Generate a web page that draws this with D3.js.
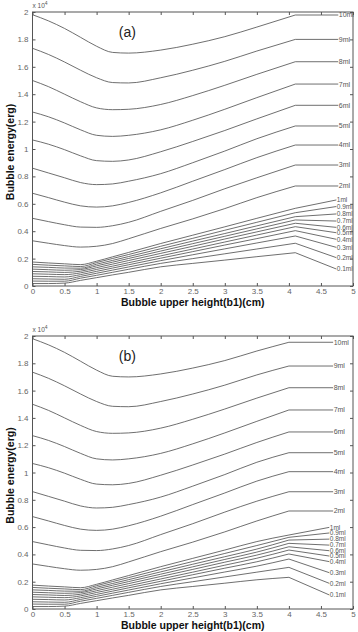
<!DOCTYPE html>
<html>
<head>
<meta charset="utf-8">
<script src="https://cdn.jsdelivr.net/npm/d3@7"></script>
<style>
  html, body { margin: 0; padding: 0; background: #fff; }
  svg { display: block; }
  text { font-family: "Liberation Sans", Arial, sans-serif; }
</style>
</head>
<body>
<svg id="chart" width="358" height="632"></svg>
<script>
// ---------------- data ----------------
const seriesNames = ["10ml","9ml","8ml","7ml","6ml","5ml","4ml","3ml","2ml",
                     "1ml","0.9ml","0.8ml","0.7ml","0.6ml","0.5ml","0.4ml","0.3ml","0.2ml","0.1ml"];

// x positions of the curve body (cm)
const xGrid = [0, 0.25, 0.5, 0.75, 1, 1.25, 1.5, 2, 2.5, 3, 3.5];

// energies (x 10^4 erg) at xGrid
const body10 = [1.98, 1.935, 1.88, 1.815, 1.75, 1.705, 1.700, 1.722, 1.765, 1.82, 1.89];
const body9  = [1.735, 1.69, 1.635, 1.575, 1.52, 1.485, 1.482, 1.52, 1.575, 1.64, 1.715];
const body8  = [1.50, 1.455, 1.40, 1.345, 1.30, 1.287, 1.29, 1.325, 1.39, 1.465, 1.545];
const body7  = [1.27, 1.235, 1.19, 1.14, 1.10, 1.092, 1.10, 1.14, 1.21, 1.29, 1.375];
const body6  = [1.066, 1.035, 0.995, 0.95, 0.915, 0.91, 0.92, 0.98, 1.055, 1.135, 1.22];
const body5  = [0.86, 0.825, 0.79, 0.755, 0.74, 0.745, 0.765, 0.82, 0.90, 0.985, 1.075];
const body4  = [0.677, 0.645, 0.612, 0.585, 0.576, 0.585, 0.61, 0.68, 0.765, 0.85, 0.937];
const body3  = [0.494, 0.47, 0.447, 0.43, 0.428, 0.44, 0.465, 0.545, 0.625, 0.71, 0.79];
const body2  = [0.33, 0.312, 0.295, 0.284, 0.29, 0.31, 0.345, 0.42, 0.49, 0.565, 0.645];
const body1  = [0.175, 0.168, 0.162, 0.156, 0.181, 0.213, 0.245, 0.31, 0.371, 0.432, 0.494];
const body09 = [0.158, 0.152, 0.147, 0.142, 0.171, 0.201, 0.23, 0.29, 0.348, 0.407, 0.465];
const body08 = [0.14, 0.136, 0.131, 0.13, 0.159, 0.187, 0.215, 0.272, 0.328, 0.383, 0.439];
const body07 = [0.123, 0.119, 0.115, 0.12, 0.147, 0.174, 0.201, 0.255, 0.309, 0.363, 0.417];
const body06 = [0.106, 0.103, 0.099, 0.108, 0.134, 0.16, 0.186, 0.238, 0.29, 0.343, 0.395];
const body05 = [0.089, 0.086, 0.083, 0.096, 0.121, 0.145, 0.17, 0.22, 0.27, 0.321, 0.372];
const body04 = [0.071, 0.069, 0.066, 0.083, 0.107, 0.131, 0.155, 0.203, 0.251, 0.299, 0.346];
const body03 = [0.053, 0.051, 0.049, 0.07, 0.093, 0.116, 0.139, 0.185, 0.228, 0.271, 0.314];
const body02 = [0.036, 0.035, 0.035, 0.057, 0.078, 0.1, 0.122, 0.165, 0.2, 0.235, 0.27];
const body01 = [0.018, 0.018, 0.021, 0.041, 0.061, 0.081, 0.1, 0.14, 0.165, 0.189, 0.214];

// panel (a): end of curve at x = 4.1, then leader to label
const kinkXA = 4.1;
const kinkA  = [1.978, 1.80, 1.637, 1.474, 1.319, 1.168, 1.029, 0.883, 0.73,
                0.567, 0.535, 0.506, 0.482, 0.458, 0.433, 0.404, 0.365, 0.312, 0.243];
const labelA = [1.978, 1.80, 1.637, 1.474, 1.319, 1.168, 1.029, 0.883, 0.73,
                0.628, 0.58, 0.526, 0.474, 0.428, 0.389, 0.341, 0.282, 0.207, 0.124];
const labelXA = [4.77, 4.74];   // [large volumes, small volumes]

// panel (b): end of curve at x = 4.0
const kinkXB = 4.0;
const kinkB  = [1.954, 1.78, 1.621, 1.458, 1.297, 1.145, 1.006, 0.859, 0.718,
                0.542, 0.525, 0.505, 0.481, 0.456, 0.432, 0.403, 0.366, 0.305, 0.232];
const labelB = [1.954, 1.78, 1.621, 1.458, 1.297, 1.145, 1.006, 0.859, 0.718,
                0.598, 0.557, 0.512, 0.468, 0.427, 0.388, 0.347, 0.266, 0.188, 0.103];
const labelXB = [4.69, 4.63];

const xTicks = [0, 0.5, 1, 1.5, 2, 2.5, 3, 3.5, 4, 4.5, 5];
const yTicks = [0, 0.2, 0.4, 0.6, 0.8, 1, 1.2, 1.4, 1.6, 1.8, 2];

const bodies = [body10, body9, body8, body7, body6, body5, body4, body3, body2,
                body1, body09, body08, body07, body06, body05, body04, body03, body02, body01];

// ---------------- drawing ----------------
const svg = d3.select("#chart");
const lineColor = "#4a4a4a";
const axisColor = "#555";
const tickText = "#666";

const panels = [
  { top: 12, bottom: 286, title: "(a)", kinkX: kinkXA, kink: kinkA, labelX: labelXA, label: labelA, xlabelY: 306 },
  { top: 336, bottom: 609, title: "(b)", kinkX: kinkXB, kink: kinkB, labelX: labelXB, label: labelB, xlabelY: 629 }
];
const left = 32.5, right = 353;

panels.forEach(p => {
  const x = d3.scaleLinear().domain([0, 5]).range([left, right]);
  const y = d3.scaleLinear().domain([0, 2]).range([p.bottom, p.top]);
  const g = svg.append("g");

  const line = d3.line().x(d => x(d[0])).y(d => y(d[1])).curve(d3.curveMonotoneX);
  const straight = d3.line().x(d => x(d[0])).y(d => y(d[1]));

  bodies.forEach((b, i) => {
    const pts = xGrid.map((xv, j) => [xv, b[j]]);
    pts.push([p.kinkX, p.kink[i]]);
    g.append("path").attr("d", line(pts))
      .attr("fill", "none").attr("stroke", lineColor).attr("stroke-width", 0.8);
    const lx = i < 9 ? p.labelX[0] : p.labelX[1];
    g.append("path").attr("d", straight([[p.kinkX, p.kink[i]], [lx, p.label[i]]]))
      .attr("fill", "none").attr("stroke", lineColor).attr("stroke-width", 0.8);
    g.append("text").attr("x", x(lx) + 0.5).attr("y", y(p.label[i]))
      .attr("dy", "0.35em").attr("font-size", i < 9 ? 7 : 6.5).attr("fill", "#555")
      .text(seriesNames[i]);
  });

  // axes with inward ticks (box style)
  const ax = g.append("g").attr("transform", `translate(0,${p.bottom})`)
    .call(d3.axisBottom(x).tickValues(xTicks).tickFormat(d3.format("~g")).tickSize(-3).tickSizeOuter(0).tickPadding(2));
  const ay = g.append("g").attr("transform", `translate(${left},0)`)
    .call(d3.axisLeft(y).tickValues(yTicks).tickFormat(d3.format("~g")).tickSize(-3).tickSizeOuter(0).tickPadding(4));
  const at = g.append("g").attr("transform", `translate(0,${p.top})`)
    .call(d3.axisTop(x).tickValues(xTicks).tickFormat("").tickSize(-3).tickSizeOuter(0));
  const ar = g.append("g").attr("transform", `translate(${right},0)`)
    .call(d3.axisRight(y).tickValues(yTicks).tickFormat("").tickSize(-3).tickSizeOuter(0));
  [ax, ay, at, ar].forEach(a => {
    a.select(".domain").remove();
    a.selectAll("line").attr("stroke", axisColor);
    a.selectAll("text").attr("fill", tickText).attr("font-size", 8)
      .attr("font-family", "Liberation Sans, Arial, sans-serif");
  });

  g.append("rect").attr("x", left).attr("y", p.top)
    .attr("width", right - left).attr("height", p.bottom - p.top)
    .attr("fill", "none").attr("stroke", axisColor).attr("stroke-width", 1);

  // exponent label
  const ex = g.append("text").attr("x", left).attr("y", p.top - 4)
    .attr("font-size", 6.5).attr("fill", "#555");
  ex.append("tspan").text("x 10");
  ex.append("tspan").attr("dy", -3).attr("font-size", 5).text("4");

  // title
  g.append("text").attr("x", x(1.48)).attr("y", y(1.85)).attr("dy", "0.35em")
    .attr("text-anchor", "middle").attr("font-size", 14).attr("fill", "#222")
    .text(p.title);

  // axis labels
  g.append("text").attr("x", (left + right) / 2).attr("y", p.xlabelY)
    .attr("text-anchor", "middle").attr("font-size", 10.5).attr("font-weight", "bold")
    .attr("fill", "#111").text("Bubble upper height(b1)(cm)");
  const cy = (p.top + p.bottom) / 2 + 3;
  g.append("text").attr("transform", `translate(14,${cy}) rotate(-90)`)
    .attr("text-anchor", "middle").attr("font-size", 10.5).attr("font-weight", "bold")
    .attr("fill", "#111").text("Bubble energy(erg)");
});
</script>
</body>
</html>
